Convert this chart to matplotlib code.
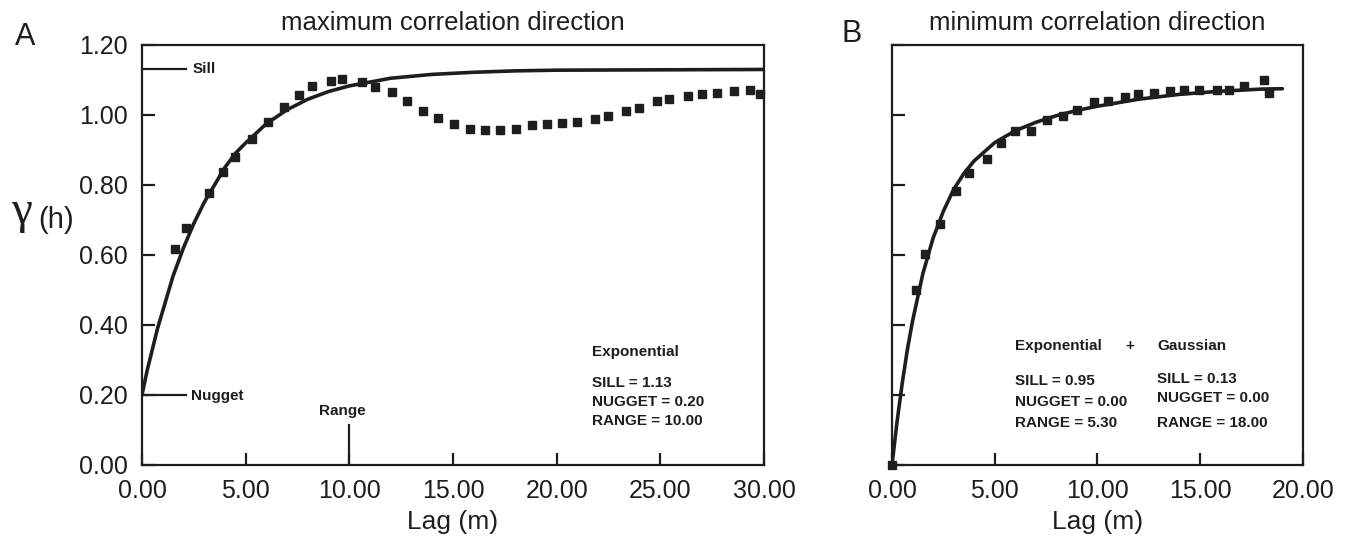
import matplotlib
matplotlib.use('Agg')
import matplotlib.pyplot as plt
import numpy as np

plt.rcParams['font.family'] = ['Liberation Sans', 'DejaVu Sans']

ink = '#1e1e1e'

# panel A: maximum correlation direction (experimental points)
lag_a = [1.58, 2.12, 3.21, 3.92, 4.51, 5.29, 6.10, 6.87, 7.56, 8.20, 9.13, 9.66,
         10.63, 11.25, 12.08, 12.77, 13.54, 14.30, 15.03, 15.84, 16.55, 17.29,
         18.02, 18.83, 19.52, 20.28, 20.97, 21.84, 22.46, 23.35, 23.98, 24.85,
         25.41, 26.32, 26.99, 27.72, 28.55, 29.31, 29.80]
gamma_a = [0.618, 0.676, 0.778, 0.837, 0.880, 0.931, 0.981, 1.022, 1.058, 1.083,
           1.096, 1.104, 1.093, 1.079, 1.065, 1.039, 1.010, 0.991, 0.974, 0.960,
           0.958, 0.958, 0.960, 0.971, 0.974, 0.976, 0.979, 0.989, 0.997, 1.010,
           1.021, 1.040, 1.047, 1.055, 1.059, 1.063, 1.068, 1.070, 1.061]

# fitted model curve A
fit_lag_a = [0, 0.25, 0.5, 0.75, 1, 1.5, 2, 2.5, 3, 3.5, 4, 4.5, 5, 6, 7, 8, 9, 10,
             12, 14, 16, 18, 20, 25, 30]
fit_gamma_a = [0.20, 0.27, 0.33, 0.39, 0.44, 0.54, 0.62, 0.69, 0.75, 0.80, 0.85,
               0.89, 0.92, 0.975, 1.015, 1.045, 1.067, 1.083, 1.105, 1.116, 1.122,
               1.126, 1.128, 1.129, 1.13]

# panel B: minimum correlation direction
lag_b = [0.0, 1.15, 1.63, 2.34, 3.11, 3.73, 4.63, 5.31, 6.00, 6.77, 7.54, 8.30,
         9.00, 9.81, 10.49, 11.33, 11.99, 12.73, 13.55, 14.19, 14.95, 15.84,
         16.40, 17.14, 18.09, 18.33]
gamma_b = [0.0, 0.50, 0.603, 0.689, 0.782, 0.835, 0.873, 0.921, 0.953, 0.953,
           0.986, 0.998, 1.014, 1.037, 1.041, 1.052, 1.060, 1.062, 1.068, 1.070,
           1.070, 1.070, 1.070, 1.084, 1.100, 1.064]

fit_lag_b = [0, 0.25, 0.5, 0.75, 1, 1.5, 2, 2.5, 3, 3.5, 4, 5, 6, 7, 8, 9, 10,
             12, 14, 16, 18, 19]
fit_gamma_b = [0, 0.125, 0.234, 0.33, 0.411, 0.546, 0.648, 0.725, 0.787, 0.833,
               0.869, 0.921, 0.955, 0.979, 0.998, 1.013, 1.025, 1.045, 1.059,
               1.068, 1.074, 1.075]

yticks = [0.0, 0.2, 0.4, 0.6, 0.8, 1.0, 1.2]
xticks_a = [0, 5, 10, 15, 20, 25, 30]
xticks_b = [0, 5, 10, 15, 20]

fig = plt.figure(figsize=(13.56, 5.36), dpi=100)
axA = fig.add_axes([0.1047, 0.1325, 0.4587, 0.7836])
axB = fig.add_axes([0.6578, 0.1325, 0.3031, 0.7836])


def style(ax, xmax, xticks, ylabels):
    ax.set_xlim(0, xmax)
    ax.set_ylim(0, 1.2)
    ax.set_xticks(xticks)
    ax.set_xticklabels(['{:.2f}'.format(v) for v in xticks])
    ax.set_yticks(yticks)
    if ylabels:
        ax.set_yticklabels(['{:.2f}'.format(v) for v in yticks])
    else:
        ax.set_yticklabels([])
    ax.tick_params(direction='in', length=9, width=1.6, colors=ink,
                   labelsize=18, labelcolor=ink)
    ax.tick_params(axis='x', pad=10)
    ax.tick_params(axis='y', pad=10)
    for s in ax.spines.values():
        s.set_linewidth(1.6)
        s.set_color(ink)
    ax.set_xlabel('Lag (m)', fontsize=19, color=ink, labelpad=5)


style(axA, 30, xticks_a, True)
style(axB, 20, xticks_b, False)

# panel A
axA.plot(fit_lag_a, fit_gamma_a, color=ink, lw=2.6, solid_capstyle='round')
axA.plot(lag_a, gamma_a, 's', color=ink, ms=6, clip_on=False)
axA.plot([0, 2.1], [1.13, 1.13], color=ink, lw=1.6)
axA.text(2.45, 1.13, 'Sill', fontsize=11, fontweight='bold', color=ink, va='center')
axA.plot([0, 2.1], [0.2, 0.2], color=ink, lw=1.6)
axA.text(2.35, 0.197, 'Nugget', fontsize=11, fontweight='bold', color=ink, va='center')
axA.plot([10, 10], [0, 0.115], color=ink, lw=1.6)
axA.text(9.65, 0.155, 'Range', fontsize=11, fontweight='bold', color=ink,
         va='center', ha='center')
axA.text(21.7, 0.322, 'Exponential', fontsize=11, fontweight='bold', color=ink, va='center')
axA.text(21.7, 0.233, 'SILL = 1.13', fontsize=11, fontweight='bold', color=ink, va='center')
axA.text(21.7, 0.180, 'NUGGET = 0.20', fontsize=11, fontweight='bold', color=ink, va='center')
axA.text(21.7, 0.126, 'RANGE = 10.00', fontsize=11, fontweight='bold', color=ink, va='center')
axA.set_title('maximum correlation direction', fontsize=18.5, color=ink, pad=11)

# panel B
axB.plot(fit_lag_b, fit_gamma_b, color=ink, lw=2.6, solid_capstyle='round')
axB.plot(lag_b, gamma_b, 's', color=ink, ms=6, clip_on=False)
axB.text(6.0, 0.339, 'Exponential', fontsize=11, fontweight='bold', color=ink, va='center')
axB.text(11.58, 0.339, '+', fontsize=11, fontweight='bold', color=ink, va='center', ha='center')
axB.text(12.9, 0.339, 'Gaussian', fontsize=11, fontweight='bold', color=ink, va='center')
axB.text(6.0, 0.241, 'SILL = 0.95', fontsize=11, fontweight='bold', color=ink, va='center')
axB.text(6.0, 0.181, 'NUGGET = 0.00', fontsize=11, fontweight='bold', color=ink, va='center')
axB.text(6.0, 0.121, 'RANGE = 5.30', fontsize=11, fontweight='bold', color=ink, va='center')
axB.text(12.9, 0.247, 'SILL = 0.13', fontsize=11, fontweight='bold', color=ink, va='center')
axB.text(12.9, 0.190, 'NUGGET = 0.00', fontsize=11, fontweight='bold', color=ink, va='center')
axB.text(12.9, 0.121, 'RANGE = 18.00', fontsize=11, fontweight='bold', color=ink, va='center')
axB.set_title('minimum correlation direction', fontsize=18.5, color=ink, pad=11)

# panel letters and y label
fig.text(0.0184, 0.931, 'A', fontsize=22, color=ink, ha='center', va='center')
fig.text(0.628, 0.9366, 'B', fontsize=22, color=ink, ha='center', va='center')
fig.text(0.0155, 0.605, '\u03b3', fontsize=34, color=ink, ha='center', va='center',
         family=['Liberation Serif', 'DejaVu Serif'])
fig.text(0.0410, 0.590, '(h)', fontsize=21, color=ink, ha='center', va='center')

fig.savefig('out.png', dpi=100)
